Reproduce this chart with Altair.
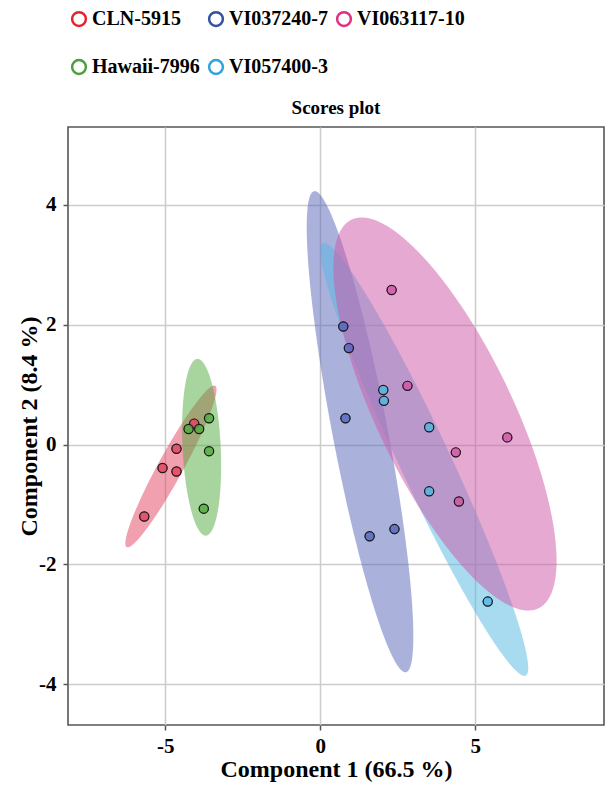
import altair as alt
import numpy as np
import pandas as pd

# ---- data ----
groups = ["CLN-5915", "VI037240-7", "VI063117-10", "Hawaii-7996", "VI057400-3"]
legend_colors = ["#e3262e", "#34509f", "#e0307f", "#4c9f3c", "#2ea3dc"]

cln_x = [-4.64, -5.09, -4.64, -5.68, -4.07]
cln_y = [-0.07, -0.39, -0.45, -1.20, 0.35]
haw_x = [-4.25, -3.91, -3.59, -3.59, -3.76]
haw_y = [0.26, 0.26, 0.44, -0.11, -1.07]
v037_x = [0.74, 0.92, 0.81, 2.39, 1.59]
v037_y = [1.97, 1.61, 0.44, -1.41, -1.53]
v063_x = [2.30, 2.81, 6.03, 4.37, 4.47]
v063_y = [2.58, 0.98, 0.12, -0.13, -0.95]
v057_x = [2.03, 2.05, 3.51, 3.51, 5.40]
v057_y = [0.91, 0.73, 0.29, -0.78, -2.62]

# confidence ellipses: centre, half-width in x, half-height in y, correlation
ell_group = ["CLN-5915", "Hawaii-7996", "VI037240-7", "VI057400-3", "VI063117-10"]
ell_colors = ["#e1415f", "#51a93d", "#5565b9", "#51b5e1", "#cd55a5"]
ell_cx = [-4.82, -3.83, 1.28, 3.355, 4.02]
ell_cy = [-0.365, -0.045, 0.215, -0.25, 0.51]
ell_wx = [1.47, 0.63, 1.72, 3.35, 3.60]
ell_hy = [1.35, 1.475, 4.015, 3.61, 3.28]
ell_rho = [0.95, -0.21, -0.85, -0.963, -0.746]

x_ticks = [-5, 0, 5]
y_ticks = [-4, -2, 0, 2, 4]
x_domain = [-8.14, 9.15]
y_domain = [-4.68, 5.30]

# ---- tables ----
grp_col = (["CLN-5915"] * 5 + ["Hawaii-7996"] * 5 + ["VI037240-7"] * 5
           + ["VI063117-10"] * 5 + ["VI057400-3"] * 5)
pts = pd.DataFrame({
    "group": grp_col,
    "sample": grp_col,
    "x": cln_x + haw_x + v037_x + v063_x + v057_x,
    "y": cln_y + haw_y + v037_y + v063_y + v057_y,
})

rows = []
t = np.linspace(0, np.pi, 181)
for g, cx, cy, wx, hy, r in zip(ell_group, ell_cx, ell_cy, ell_wx, ell_hy, ell_rho):
    s = np.sqrt(1 - r * r)
    xs = cx + wx * np.cos(t)
    yu = cy + hy * (r * np.cos(t) + s * np.sin(t))
    yl = cy + hy * (r * np.cos(t) - s * np.sin(t))
    for a, b, c in zip(xs, yu, yl):
        rows.append({"group": g, "x": float(a), "yu": float(b), "yl": float(c)})
ell = pd.DataFrame(rows)

serif = "Liberation Serif"
xs_ = alt.Scale(domain=x_domain, nice=False, zero=False)
ys_ = alt.Scale(domain=y_domain, nice=False, zero=False)
# fill scale uses the ellipse order (a different domain from the legend scale,
# so Vega-Lite keeps the two legends apart and only the outline legend shows)
fill_scale = alt.Scale(domain=ell_group, range=ell_colors)

xaxis = alt.Axis(values=x_ticks, title="Component 1 (66.5 %)", labelFont=serif,
                 labelFontWeight="bold", labelFontSize=21, labelColor="black",
                 labelExpr="'' + datum.value",
                 titleFont=serif, titleFontWeight="bold", titleFontSize=24,
                 titleColor="black", titlePadding=1, tickSize=5, tickColor="#555",
                 tickWidth=1.5, domain=False, gridColor="#cccccc", gridWidth=1.5,
                 labelPadding=5)
yaxis = alt.Axis(values=y_ticks, title="Component 2 (8.4 %)", labelFont=serif,
                 labelFontWeight="bold", labelFontSize=21, labelColor="black",
                 labelExpr="'' + datum.value",
                 titleFont=serif, titleFontWeight="bold", titleFontSize=24,
                 titleColor="black", titlePadding=-3, tickSize=5, tickColor="#555",
                 tickWidth=1.5, domain=False, gridColor="#cccccc", gridWidth=1.5,
                 labelPadding=7)

areas = alt.Chart(ell).mark_area(opacity=0.5, interpolate="linear").encode(
    x=alt.X("x:Q", scale=xs_, axis=xaxis),
    y=alt.Y("yu:Q", scale=ys_, axis=yaxis),
    y2="yl:Q",
    fill=alt.Fill("group:N", scale=fill_scale, legend=None),
    detail="group:N",
)

legend_pts = alt.Chart(pts).mark_point(filled=False, size=85, strokeWidth=1,
                                       opacity=1).encode(
    x="x:Q", y="y:Q",
    color=alt.Color("sample:N", scale=alt.Scale(domain=groups, range=legend_colors),
                    legend=alt.Legend(title=None, orient="none", legendX=1, legendY=-118,
                                      direction="horizontal", columns=3, padding=0,
                                      symbolType="circle", symbolSize=190,
                                      symbolStrokeWidth=2.5, labelFont=serif,
                                      labelFontWeight="bold", labelFontSize=20,
                                      labelColor="black", columnPadding=4,
                                      rowPadding=24, labelOffset=3,
                                      labelLimit=300)),
)

points = alt.Chart(pts).mark_point(filled=True, size=85, fillOpacity=0.8,
                                   stroke="#1a1a1a", strokeWidth=1.2, strokeOpacity=1).encode(
    x="x:Q", y="y:Q",
    fill=alt.Fill("group:N", scale=fill_scale, legend=None),
)

chart = alt.layer(areas, legend_pts, points).properties(
    width=536, height=598,
    title=alt.TitleParams("Scores plot", font=serif, fontSize=19, fontWeight="bold",
                          color="black", anchor="middle", offset=-109),
    autosize=alt.AutoSizeParams(type="none"),
    padding={"left": 60, "top": 119, "right": 2, "bottom": 58},
).configure_view(stroke="#555555", strokeWidth=1.6)

chart.save("out.html", embed_options={"renderer": "svg", "actions": False})
